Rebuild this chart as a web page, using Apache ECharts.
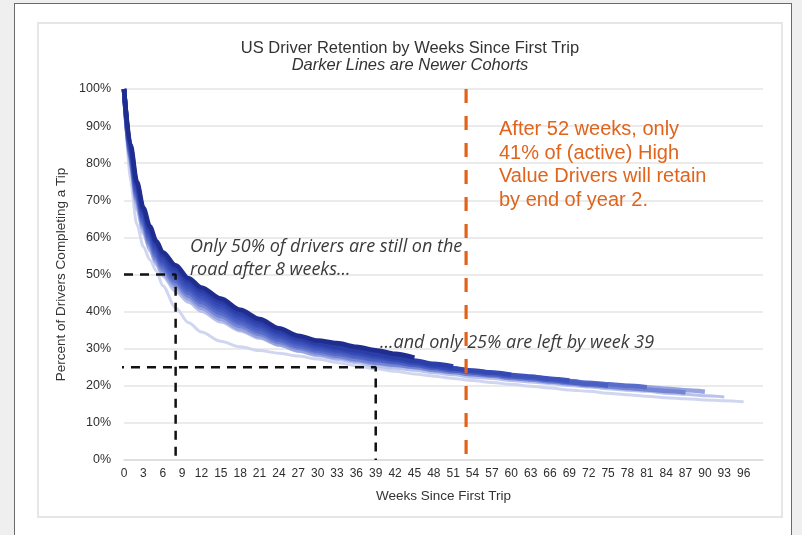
<!DOCTYPE html>
<html>
<head>
<meta charset="utf-8">
<title>US Driver Retention by Weeks Since First Trip</title>
<script src="https://cdn.jsdelivr.net/npm/echarts@6/dist/echarts.min.js"></script>
<style>
  html, body { margin: 0; padding: 0; background: #efefef; overflow: hidden; }
  .frame { position: absolute; left: 14px; top: 3px; width: 776px; height: 600px; border: 1.5px solid #6a6a6a; background: #fff; }
  .panel { position: absolute; left: 37px; top: 22px; width: 742px; height: 492px; border: 2px solid #e6e6e6; background: #fff; }
  #chart { position: absolute; left: 0; top: 0; width: 802px; height: 535px; }
</style>
</head>
<body>
<div class="frame"></div>
<div class="panel"></div>
<div id="chart"></div>
<script>
const weeks = [0, 1, 2, 3, 4, 5, 6, 8, 10, 12, 15, 18, 21, 24, 27, 30, 33, 36, 39, 42, 45, 48, 51, 54, 57, 60, 63, 66, 69, 72, 75, 78, 81, 84, 87, 90, 93, 96];

// % of drivers still completing a trip, oldest cohort first
const cohort1 = [100, 75, 63.5, 57.5, 54, 51, 47, 41, 37, 34.5, 32, 30.5, 29.5, 28.8, 28, 27.2, 26.3, 25.4, 24.6, 23.9, 23.2, 22.6, 22, 21.4, 20.9, 20.4, 19.9, 19.4, 18.9, 18.5, 18, 17.6, 17.2, 16.8, 16.5, 16.2, 16, 15.7];
const cohort2 = [100, 78, 67.5, 61, 56.3, 52.6, 49.6, 45.4, 42.5, 40, 37.2, 34.8, 32.8, 30.9, 29.3, 28.1, 27.1, 26.3, 25.2, 24.7, 24.2, 23.5, 23, 22.3, 22, 21.4, 21, 20.6, 20.1, 19.7, 19.2, 18.8, 18.5, 18, 17.7, 17.3, 17];
const cohort3 = [100, 80.3, 69.5, 62.5, 57.5, 53.5, 50.5, 46.7, 43.5, 41, 38, 35.4, 33.3, 31.2, 29.6, 28.5, 27.7, 26.9, 26.1, 25.6, 25.1, 24.4, 23.8, 23.3, 22.9, 22.4, 22.1, 21.6, 21.2, 20.7, 20.3, 19.9, 19.6, 19.2, 18.8, 18.4];
const cohort4 = [100, 81, 70.3, 63.3, 58.3, 54.3, 51.3, 47.5, 44.3, 41.8, 38.8, 36.1, 34, 31.8, 30.2, 29, 28.1, 27.2, 26.3, 25.7, 25.1, 24.3, 23.7, 23.1, 22.7, 22.1, 21.7, 21.2, 20.7, 20.2, 19.8, 19.4, 19, 18.6, 18.2];
const cohort5 = [100, 81.6, 71.1, 64.1, 59.1, 55.1, 52.1, 48.3, 45.1, 42.6, 39.6, 36.9, 34.6, 32.4, 30.7, 29.5, 28.6, 27.8, 26.9, 26.3, 25.6, 24.9, 24.2, 23.6, 23.2, 22.7, 22.3, 21.8, 21.3, 20.8, 20.4, 20, 19.6];
const cohort6 = [100, 82.3, 71.9, 64.9, 59.9, 55.9, 52.9, 49.1, 45.9, 43.4, 40.4, 37.6, 35.3, 33, 31.3, 30, 29.1, 28.1, 27.2, 26.5, 25.7, 24.9, 24.2, 23.6, 23.1, 22.5, 22.1, 21.6, 21, 20.5, 20.1];
const cohort7 = [100, 83, 72.6, 65.6, 60.6, 56.6, 53.6, 50, 46.6, 44.1, 41.1, 38.3, 36, 33.6, 31.8, 30.5, 29.6, 28.7, 27.7, 27, 26.2, 25.3, 24.6, 24, 23.5, 22.9, 22.5, 21.9, 21.4];
const cohort8 = [100, 83.6, 73.4, 66.4, 61.4, 57.4, 54.4, 50.8, 47.4, 44.9, 41.9, 39, 36.6, 34.2, 32.4, 31, 30, 29, 28.1, 27.2, 26.3, 25.4, 24.7, 24.1, 23.6, 23];
const cohort9 = [100, 84.3, 74.2, 67.2, 62.2, 58.2, 55.2, 51.6, 48.2, 45.7, 42.7, 39.7, 37.3, 34.8, 32.9, 31.5, 30.5, 29.6, 28.6, 27.7, 26.8, 25.9, 25.2];
const cohort10 = [100, 85, 75, 68, 63, 59, 56, 52.5, 49, 46.5, 43.5, 40.5, 38, 35.5, 33.5, 32.2, 31.5, 30.5, 29.6, 28.6, 27.6];

// call-out guides: [week, %]
const halfGuide = [[0, 50], [8, 50], [8, 0]];
const quarterGuide = [[-1.4, 25], [39, 25], [39, 0]];
const yearGuide = [[53, 100], [53, 0]];

const cohorts = [cohort1, cohort2, cohort3, cohort4, cohort5, cohort6, cohort7, cohort8, cohort9, cohort10];
const shades = ['#d0d6f0', '#b9c2ea', '#97a4e0', '#7485d4', '#5a6dca', '#4a5fc2', '#3d52bb', '#3448b3', '#2b3da6', '#1f2d8f'];

const chart = echarts.init(document.getElementById('chart'));

const cohortSeries = cohorts.map((vals, i) => ({
  type: 'line',
  data: vals.map((v, j) => [weeks[j], v]),
  showSymbol: false,
  smooth: 0.3,
  smoothMonotone: 'x',
  silent: true,
  lineStyle: { color: shades[i], width: i < 2 ? 3 : 4.6 }
}));

const guide = (data, color, width, dash) => ({
  type: 'line',
  data: data,
  showSymbol: false,
  silent: true,
  clip: false,
  z: 5,
  lineStyle: { color: color, width: width, type: dash }
});

chart.setOption({
  animation: false,
  title: {
    text: 'US Driver Retention by Weeks Since First Trip',
    subtext: 'Darker Lines are Newer Cohorts',
    left: 405,
    top: 35,
    textAlign: 'center',
    itemGap: 0,
    textStyle: { fontFamily: 'Liberation Sans', fontSize: 16.5, fontWeight: 'normal', color: '#333' },
    subtextStyle: { fontFamily: 'Liberation Sans', fontSize: 16.5, fontStyle: 'italic', color: '#333' }
  },
  grid: { left: 124, right: 39, top: 89, bottom: 75 },
  xAxis: {
    type: 'value',
    min: 0,
    max: 99,
    interval: 3,
    name: 'Weeks Since First Trip',
    nameLocation: 'middle',
    nameGap: 29,
    nameTextStyle: { fontFamily: 'Liberation Sans', fontSize: 13.5, color: '#333' },
    axisLine: { lineStyle: { color: '#dcdcdc', width: 1.5 } },
    axisTick: { show: false },
    splitLine: { show: false },
    axisLabel: {
      margin: 8,
      fontFamily: 'Liberation Sans',
      fontSize: 12,
      color: '#2e2e2e',
      formatter: v => (v > 96 ? '' : String(v))
    }
  },
  yAxis: {
    type: 'value',
    min: 0,
    max: 100,
    interval: 10,
    name: 'Percent of Drivers Completing a Tip',
    nameLocation: 'middle',
    nameGap: 48,
    nameTextStyle: { fontFamily: 'Liberation Sans', fontSize: 13.5, color: '#333' },
    axisLine: { show: false },
    axisTick: { show: false },
    splitLine: { lineStyle: { color: '#e4e4e4', width: 1.5 } },
    axisLabel: {
      margin: 13,
      fontFamily: 'Liberation Sans',
      fontSize: 12.5,
      color: '#2e2e2e',
      formatter: '{value}%'
    }
  },
  series: cohortSeries.concat([
    guide(halfGuide, '#111', 2.5, [9, 7]),
    guide(quarterGuide, '#111', 2.5, [9, 7]),
    guide(yearGuide, '#e2621b', 3.2, [14, 13])
  ]),
  graphic: [
    {
      type: 'text', left: 190, top: 235, z: 100,
      style: { text: 'Only 50% of drivers are still on the\nroad after 8 weeks...', font: 'italic 18px "Open Sans"', fill: '#3a3a3a', lineHeight: 23 }
    },
    {
      type: 'text', left: 380, top: 331, z: 100,
      style: { text: '...and only 25% are left by week 39', font: 'italic 18px "Open Sans"', fill: '#3a3a3a', lineHeight: 23 }
    },
    {
      type: 'text', left: 499, top: 118, z: 100,
      style: { text: 'After 52 weeks, only\n41% of (active) High\nValue Drivers will retain\nby end of year 2.', font: '20px "Liberation Sans"', fill: '#e0641c', lineHeight: 23.5 }
    }
  ]
});
</script>
</body>
</html>
